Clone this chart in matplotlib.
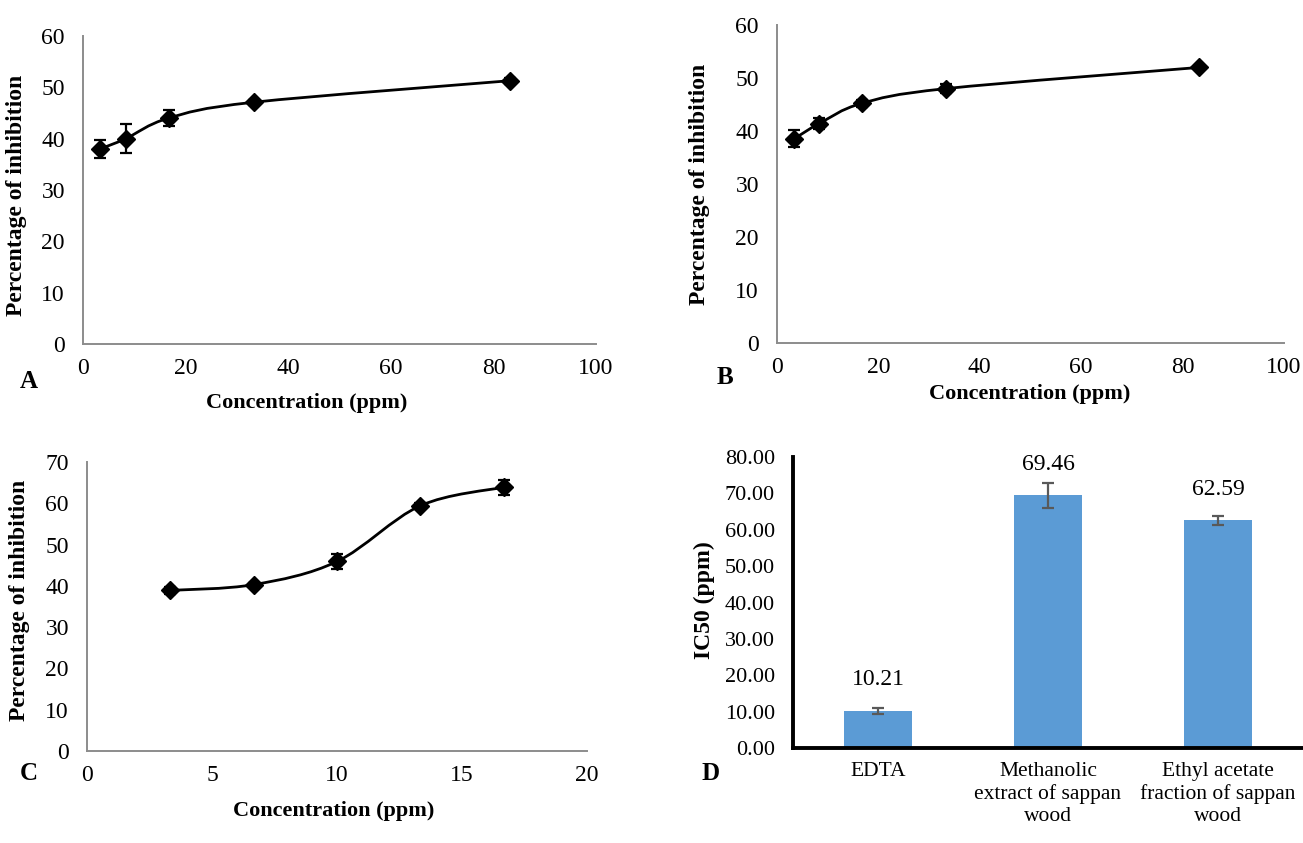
import matplotlib
matplotlib.use("Agg")
import matplotlib.pyplot as plt
import numpy as np
from matplotlib.path import Path
from matplotlib.patches import PathPatch

plt.rcParams["font.family"] = ["Liberation Serif", "DejaVu Serif"]

# --- data ---
conc_ab = [3.33, 8.33, 16.67, 33.33, 83.33]
inhib_a = [38.0, 40.0, 44.0, 47.1, 51.3]
err_a = [1.8, 2.8, 1.6, 0.5, 0.6]

inhib_b = [38.5, 41.4, 45.2, 48.0, 52.0]
err_b = [1.6, 1.0, 0.6, 0.9, 0.3]

conc_c = [3.33, 6.67, 10.0, 13.33, 16.67]
inhib_c = [38.9, 40.3, 45.9, 59.4, 63.9]
err_c = [0.8, 0.5, 1.8, 0.7, 1.8]

samples = ["EDTA", "Methanolic\nextract of sappan\nwood", "Ethyl acetate\nfraction of sappan\nwood"]
ic50 = [10.21, 69.46, 62.59]
ic50_err = [0.9, 3.4, 1.2]

W, H = 1303, 843
fig = plt.figure(figsize=(W / 100, H / 100), dpi=100)


def box(l, t, r, b):
    return [l / W, 1 - b / H, (r - l) / W, (b - t) / H]


def ftext(x, y, s, **kw):
    # place text by pixel position (from top-left)
    fig.text(x / W, 1 - y / H, s, ha="center", va="center", **kw)


def smooth_line(ax, xs, ys):
    # Excel-style "smoothed line": cubic Bezier through the points
    p = np.column_stack([xs, ys])
    ext = np.vstack([p[0], p, p[-1]])
    verts = [tuple(p[0])]
    codes = [Path.MOVETO]
    for i in range(len(p) - 1):
        c1 = ext[i + 1] + (ext[i + 2] - ext[i]) / 6
        c2 = ext[i + 2] - (ext[i + 3] - ext[i + 1]) / 6
        verts += [tuple(c1), tuple(c2), tuple(p[i + 1])]
        codes += [Path.CURVE4] * 3
    ax.add_patch(PathPatch(Path(verts, codes), fill=False, color="black", lw=2, zorder=2))


def line_panel(rect, xs, ys, errs, xmax, xstep, ymax):
    ax = fig.add_axes(rect)
    smooth_line(ax, xs, ys)
    ax.errorbar(xs, ys, yerr=errs, fmt="D", color="black", ms=9, capsize=4.5,
                elinewidth=1.6, capthick=1.6, zorder=3)
    ax.set_xlim(0, xmax)
    ax.set_ylim(0, ymax)
    ax.set_xticks(np.arange(0, xmax + 1, xstep))
    ax.set_yticks(np.arange(0, ymax + 1, 10))
    for s in ["top", "right"]:
        ax.spines[s].set_visible(False)
    for s in ["left", "bottom"]:
        ax.spines[s].set_color("#8c8c8c")
        ax.spines[s].set_linewidth(1.4)
    ax.tick_params(length=0, labelsize=17)
    ax.tick_params(axis="y", pad=13)
    ax.tick_params(axis="x", pad=10)
    return ax


lab = dict(fontsize=17, fontweight="bold")
xlab = dict(fontsize=16, fontweight="bold")
letter = dict(fontsize=18, fontweight="bold")

line_panel(box(83, 36, 596, 344), conc_ab, inhib_a, err_a, 100, 20, 60)
ftext(17, 195, "Percentage of inhibition", rotation=90, **lab)
ftext(307, 403, "Concentration (ppm)", **xlab)
ftext(29, 381, "A", **letter)

line_panel(box(777, 25, 1284, 343), conc_ab, inhib_b, err_b, 100, 20, 60)
ftext(700, 184, "Percentage of inhibition", rotation=90, **lab)
ftext(1030, 394, "Concentration (ppm)", **xlab)
ftext(725, 377, "B", **letter)

line_panel(box(87, 462, 587, 751), conc_c, inhib_c, err_c, 20, 5, 70)
ftext(20, 600, "Percentage of inhibition", rotation=90, **lab)
ftext(334, 811, "Concentration (ppm)", **xlab)
ftext(29, 774, "C", **letter)

# --- panel D: IC50 bars ---
axd = fig.add_axes(box(793, 457, 1303, 748))
xpos = np.arange(len(samples))
axd.bar(xpos, ic50, width=0.4, color="#5b9bd5", zorder=2)
axd.errorbar(xpos, ic50, yerr=ic50_err, fmt="none", ecolor="#595959",
             capsize=4.5, elinewidth=1.6, capthick=1.6, zorder=3)
for x, v in zip(xpos, ic50):
    axd.text(x, v + 8.5, f"{v:.2f}", ha="center", va="center", fontsize=17)
axd.set_xlim(-0.5, 2.5)
axd.set_ylim(0, 80)
axd.set_yticks(np.arange(0, 81, 10))
axd.set_yticklabels([f"{t:.2f}" for t in np.arange(0, 81, 10)])
axd.set_xticks(xpos)
axd.set_xticklabels(samples, linespacing=1.22)
for s in ["top", "right"]:
    axd.spines[s].set_visible(False)
for s in ["left", "bottom"]:
    axd.spines[s].set_color("black")
    axd.spines[s].set_linewidth(2.8)
axd.tick_params(length=0, labelsize=15.5)
axd.tick_params(axis="y", pad=13, labelsize=16)
axd.tick_params(axis="x", pad=10)
ftext(704, 600, "IC50 (ppm)", rotation=90, **lab)
ftext(711, 773, "D", **letter)

fig.savefig("out.png", dpi=100, facecolor="white")
